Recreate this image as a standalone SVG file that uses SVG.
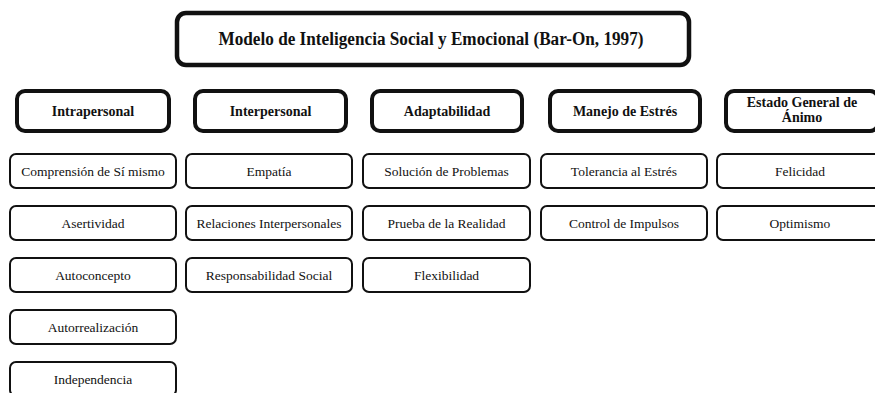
<svg xmlns="http://www.w3.org/2000/svg" width="875" height="393" viewBox="0 0 875 393">
<style>
.title{fill:#fff;stroke:#111;stroke-width:4.5}
.hdr{fill:#fff;stroke:#111;stroke-width:4}
.sub{fill:#fff;stroke:#111;stroke-width:2}
text{font-family:"Liberation Serif","Times New Roman",serif;fill:#111;text-anchor:middle}
.tt{font-size:18px;font-weight:bold}
.ht{font-size:14px;font-weight:bold}
.st{font-size:13.5px}
</style>
<rect width="875" height="393" fill="#fff"/>
<g id="title">
<rect class="title" x="177" y="13" width="512" height="52" rx="9"/>
<text class="tt" x="431" y="45" textLength="425" lengthAdjust="spacingAndGlyphs">Modelo de Inteligencia Social y Emocional (Bar-On, 1997)</text>
</g>
<g id="h-intrapersonal"><rect class="hdr" x="17" y="91" width="152" height="40" rx="8"/><text class="ht" x="93" y="116">Intrapersonal</text></g>
<g id="h-interpersonal"><rect class="hdr" x="195" y="91" width="151" height="40" rx="8"/><text class="ht" x="270.5" y="116">Interpersonal</text></g>
<g id="h-adaptabilidad"><rect class="hdr" x="372" y="91" width="150" height="40" rx="8"/><text class="ht" x="447" y="116">Adaptabilidad</text></g>
<g id="h-manejo"><rect class="hdr" x="550" y="91" width="150" height="40" rx="8"/><text class="ht" x="625" y="116">Manejo de Estrés</text></g>
<g id="h-estado"><rect class="hdr" x="726" y="91" width="152" height="40" rx="8"/><text class="ht" x="802" y="107">Estado General de</text><text class="ht" x="802" y="122">Ánimo</text></g>

<g id="s-comprension"><rect class="sub" x="10" y="154" width="166" height="34" rx="6"/><text class="st" x="93" y="176">Comprensión de Sí mismo</text></g>
<g id="s-asertividad"><rect class="sub" x="10" y="206" width="166" height="34" rx="6"/><text class="st" x="93" y="228">Asertividad</text></g>
<g id="s-autoconcepto"><rect class="sub" x="10" y="258" width="166" height="34" rx="6"/><text class="st" x="93" y="280">Autoconcepto</text></g>
<g id="s-autorrealizacion"><rect class="sub" x="10" y="310" width="166" height="34" rx="6"/><text class="st" x="93" y="332">Autorrealización</text></g>
<g id="s-independencia"><rect class="sub" x="10" y="362" width="166" height="34" rx="6"/><text class="st" x="93" y="384">Independencia</text></g>

<g id="s-empatia"><rect class="sub" x="186" y="154" width="166" height="34" rx="6"/><text class="st" x="269" y="176">Empatía</text></g>
<g id="s-relaciones"><rect class="sub" x="186" y="206" width="166" height="34" rx="6"/><text class="st" x="269" y="228">Relaciones Interpersonales</text></g>
<g id="s-responsabilidad"><rect class="sub" x="186" y="258" width="166" height="34" rx="6"/><text class="st" x="269" y="280">Responsabilidad Social</text></g>

<g id="s-solucion"><rect class="sub" x="363" y="154" width="167" height="34" rx="6"/><text class="st" x="446.5" y="176">Solución de Problemas</text></g>
<g id="s-prueba"><rect class="sub" x="363" y="206" width="167" height="34" rx="6"/><text class="st" x="446.5" y="228">Prueba de la Realidad</text></g>
<g id="s-flexibilidad"><rect class="sub" x="363" y="258" width="167" height="34" rx="6"/><text class="st" x="446.5" y="280">Flexibilidad</text></g>

<g id="s-tolerancia"><rect class="sub" x="541" y="154" width="166" height="34" rx="6"/><text class="st" x="624" y="176">Tolerancia al Estrés</text></g>
<g id="s-control"><rect class="sub" x="541" y="206" width="166" height="34" rx="6"/><text class="st" x="624" y="228">Control de Impulsos</text></g>

<g id="s-felicidad"><rect class="sub" x="717" y="154" width="166" height="34" rx="6"/><text class="st" x="800" y="176">Felicidad</text></g>
<g id="s-optimismo"><rect class="sub" x="717" y="206" width="166" height="34" rx="6"/><text class="st" x="800" y="228">Optimismo</text></g>
<g id="connectors"/>
</svg>
